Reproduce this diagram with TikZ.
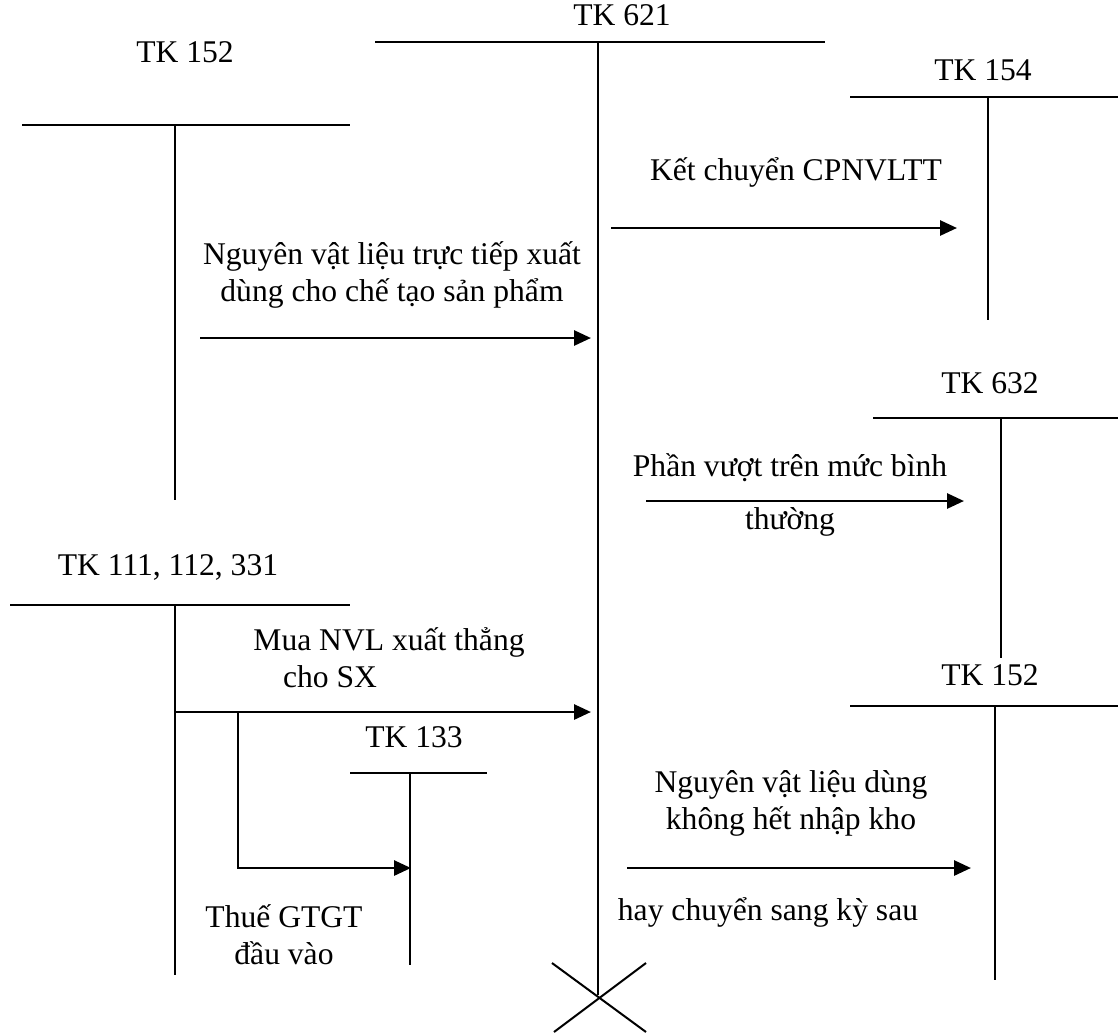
\documentclass[tikz,border=0pt]{standalone}
\usepackage{fontspec}
\setmainfont{Liberation Serif}
\usetikzlibrary{arrows.meta}
\begin{document}
\begin{tikzpicture}[x=0.5pt,y=-0.5pt,
  acc/.style={line width=1pt},
  flow/.style={line width=1.4pt,-{Triangle[length=8.5pt,width=7.5pt]}},
  lbl/.style={font=\fontsize{15.8}{18.5}\selectfont,inner sep=0pt,align=center},
  every node/.style={lbl}]
\useasboundingbox (0,0) rectangle (1118,1034);
% TK 152 left
\node (t152) at (185,52) {TK 152};
\coordinate (a1) at (22,125); \coordinate (a2) at (350,125);
\coordinate (a3) at (175,125); \coordinate (a4) at (175,500);
\draw[acc] (a1) -- (a2); \draw[acc] (a3) -- (a4);
% TK 621
\node (t621) at (622,15) {TK 621};
\coordinate (b1) at (375,42); \coordinate (b2) at (825,42);
\coordinate (b3) at (598,42); \coordinate (b4) at (598,995);
\draw[acc] (b1) -- (b2); \draw[acc] (b3) -- (b4);
\coordinate (x1) at (552,963); \coordinate (x2) at (646,1032);
\coordinate (x3) at (646,963); \coordinate (x4) at (554,1032);
\draw[acc] (x1) -- (x2); \draw[acc] (x3) -- (x4);
% TK 154
\node (t154) at (983,70) {TK 154};
\coordinate (c1) at (850,97); \coordinate (c2) at (1118,97);
\coordinate (c3) at (988,97); \coordinate (c4) at (988,320);
\draw[acc] (c1) -- (c2); \draw[acc] (c3) -- (c4);
\node (l1) at (796,172) {Kết chuyển CPNVLTT};
\coordinate (f1s) at (611,228); \coordinate (f1e) at (957,228);
\draw[flow] (f1s) -- (f1e);
% NVL truc tiep
\node (l2) at (392,275) {Nguyên vật liệu trực tiếp xuất\\[0pt]dùng cho chế tạo sản phẩm};
\coordinate (f2s) at (200,338); \coordinate (f2e) at (591,338);
\draw[flow] (f2s) -- (f2e);
% TK 632
\node (t632) at (990,383) {TK 632};
\coordinate (d1) at (873,418); \coordinate (d2) at (1118,418);
\coordinate (d3) at (1001,418); \coordinate (d4) at (1001,658);
\draw[acc] (d1) -- (d2); \draw[acc] (d3) -- (d4);
\node (l3) at (790,468) {Phần vượt trên mức bình};
\node (l3b) at (790,522) {thường};
\coordinate (f3s) at (646,501); \coordinate (f3e) at (964,501);
\draw[flow] (f3s) -- (f3e);
% TK 111,112,331
\node (t111) at (168,567) {TK 111, 112, 331};
\coordinate (e1) at (10,605); \coordinate (e2) at (350,605);
\coordinate (e3) at (175,605); \coordinate (e4) at (175,975);
\draw[acc] (e1) -- (e2); \draw[acc] (e3) -- (e4);
\node (l4) at (389,642) {Mua NVL xuất thẳng};
\node (l4b) at (330,677) {cho SX};
\coordinate (f4s) at (175,712); \coordinate (f4e) at (591,712);
\draw[flow] (f4s) -- (f4e);
\coordinate (g1) at (238,712); \coordinate (g2) at (238,868); \coordinate (g3) at (411,868);
\draw[line width=1.4pt,-{Triangle[length=8.5pt,width=7.5pt]}] (g1) -- (g2) -- (g3);
% TK 133
\node (t133) at (414,737) {TK 133};
\coordinate (h1) at (350,773); \coordinate (h2) at (487,773);
\coordinate (h3) at (410,773); \coordinate (h4) at (410,965);
\draw[acc] (h1) -- (h2); \draw[acc] (h3) -- (h4);
\node (l5) at (284,935) {Thuế GTGT\\[0pt]đầu vào};
% TK 152 right
\node (t152r) at (990,675) {TK 152};
\coordinate (k1) at (850,706); \coordinate (k2) at (1118,706);
\coordinate (k3) at (995,706); \coordinate (k4) at (995,980);
\draw[acc] (k1) -- (k2); \draw[acc] (k3) -- (k4);
\node (l6) at (791,803) {Nguyên vật liệu dùng\\[0pt]không hết nhập kho};
\node (l6b) at (768,912) {hay chuyển sang kỳ sau};
\coordinate (f6s) at (627,868); \coordinate (f6e) at (971,868);
\draw[flow] (f6s) -- (f6e);
\end{tikzpicture}
\end{document}
